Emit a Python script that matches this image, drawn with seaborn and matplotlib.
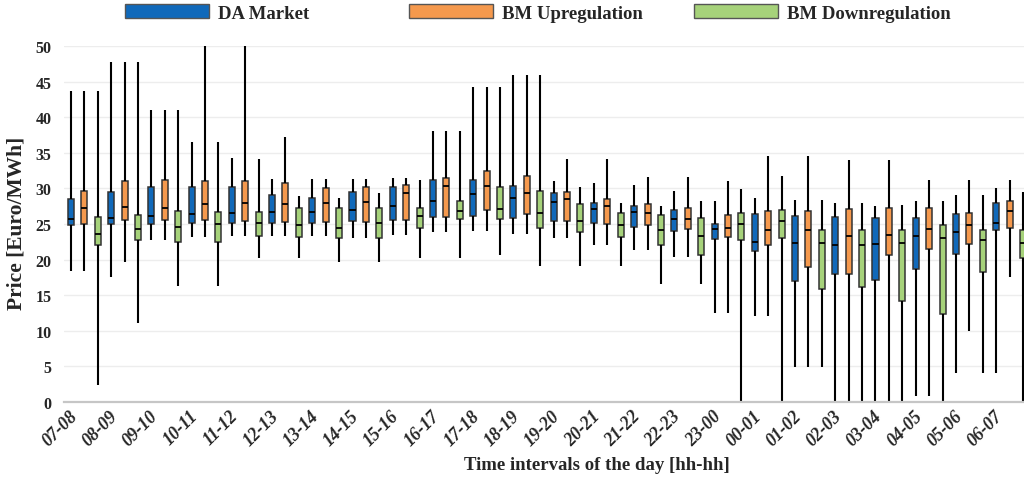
import pandas as pd
import seaborn as sns
import matplotlib.pyplot as plt
import matplotlib.transforms as mtransforms
from matplotlib.patches import Patch

# Time intervals and markets
intervals = ['07-08', '08-09', '09-10', '10-11', '11-12', '12-13', '13-14', '14-15',
             '15-16', '16-17', '17-18', '18-19', '19-20', '20-21', '21-22', '22-23',
             '23-00', '00-01', '01-02', '02-03', '03-04', '04-05', '05-06', '06-07']
markets = ['DA Market', 'BM Upregulation', 'BM Downregulation']
colors = ['#1069BA', '#F5994D', '#A6D27A']

# DA Market box statistics
da_low = [18.4, 17.5, 22.8, 23.2, 23.3, 23.3, 23.3, 23.1, 23.5, 23.9, 24.0, 23.6,
          23.1, 22.1, 21.4, 20.4, 12.5, 12.0, 4.9, 0.0, 0.0, 0.8, 4.0, 4.0]
da_q1 = [24.8, 25.0, 25.0, 25.2, 25.2, 25.2, 25.2, 25.4, 25.6, 26.0, 26.1, 25.8,
         25.4, 25.1, 24.6, 24.0, 22.9, 21.2, 17.0, 18.0, 17.1, 18.6, 20.8, 24.2]
da_med = [25.7, 25.9, 26.1, 26.4, 26.6, 26.7, 26.7, 26.9, 27.6, 28.3, 29.2, 28.7,
          28.1, 27.1, 26.7, 25.7, 24.3, 22.5, 22.3, 22.0, 22.2, 23.3, 23.9, 25.2]
da_q3 = [28.5, 29.5, 30.2, 30.2, 30.2, 29.1, 28.6, 29.5, 30.2, 31.2, 31.2, 30.4,
         29.4, 27.9, 27.6, 27.0, 25.0, 26.4, 26.1, 26.0, 25.9, 25.8, 26.4, 27.9]
da_high = [43.7, 47.8, 41.0, 36.5, 34.3, 31.4, 31.3, 31.4, 31.5, 38.1, 44.3, 46.0,
           31.1, 30.8, 30.5, 29.6, 28.3, 28.7, 28.4, 27.9, 27.6, 28.2, 29.1, 30.1]

# BM Upregulation
up_low = [18.4, 19.7, 22.8, 23.2, 23.3, 23.3, 23.3, 23.1, 23.5, 23.9, 24.0, 23.6,
          23.1, 22.1, 21.4, 20.4, 12.5, 12.1, 4.9, 0.0, 0.0, 0.8, 9.9, 17.5]
up_q1 = [25.0, 25.5, 25.5, 25.5, 25.4, 25.3, 25.3, 25.3, 25.6, 26.0, 26.9, 26.4,
         25.4, 25.0, 24.9, 24.3, 23.2, 22.1, 19.0, 18.0, 20.6, 21.5, 22.2, 24.5]
up_med = [27.2, 27.4, 27.3, 27.8, 27.9, 27.8, 28.0, 28.1, 29.3, 30.3, 30.4, 29.4,
          28.5, 27.6, 26.6, 25.7, 24.5, 24.2, 24.2, 23.3, 23.5, 24.3, 24.9, 26.8]
up_q3 = [29.7, 31.0, 31.2, 31.0, 31.1, 30.7, 30.1, 30.2, 30.5, 31.5, 32.4, 31.7,
         29.5, 28.5, 27.8, 27.3, 26.2, 26.8, 26.8, 27.1, 27.2, 27.2, 26.6, 28.3]
up_high = [43.7, 47.8, 41.0, 50.0, 50.0, 37.3, 31.3, 31.4, 31.5, 38.1, 44.3, 46.0,
           34.2, 34.2, 31.6, 31.6, 31.1, 34.5, 34.5, 34.0, 34.0, 31.2, 31.2, 31.2]

# BM Downregulation
down_low = [2.4, 11.1, 16.3, 16.3, 20.2, 20.2, 19.7, 19.7, 20.2, 20.2, 20.6, 19.1,
            19.1, 19.1, 16.6, 16.6, 0.0, 0.0, 4.9, 0.0, 0.0, 0.0, 4.0, 0.0]
down_q1 = [22.1, 22.7, 22.4, 22.4, 23.3, 23.2, 23.0, 23.0, 24.5, 25.7, 25.7, 24.5,
           23.9, 23.2, 22.1, 20.6, 22.7, 23.1, 15.8, 16.1, 14.2, 12.4, 18.2, 20.2]
down_med = [23.6, 24.3, 24.6, 25.0, 25.1, 24.9, 24.5, 25.2, 26.1, 26.8, 27.1, 26.6,
            25.4, 24.8, 24.2, 23.3, 25.0, 25.4, 22.3, 22.1, 22.3, 23.1, 22.7, 22.3]
down_q3 = [26.0, 26.2, 26.8, 26.7, 26.7, 27.2, 27.2, 27.3, 27.3, 28.3, 30.2, 29.7,
           27.8, 26.5, 26.3, 25.9, 26.6, 27.0, 24.1, 24.2, 24.2, 24.8, 24.1, 24.2]
down_high = [43.7, 47.8, 41.0, 36.5, 34.2, 28.9, 28.6, 29.3, 31.2, 38.1, 44.3, 46.0,
             30.2, 28.0, 27.5, 28.3, 29.9, 31.8, 28.4, 28.0, 27.7, 28.3, 29.1, 29.5]

# Build long-form table: five points per box give exactly min/q1/median/q3/max
stats = {
    'DA Market': [da_low, da_q1, da_med, da_q3, da_high],
    'BM Upregulation': [up_low, up_q1, up_med, up_q3, up_high],
    'BM Downregulation': [down_low, down_q1, down_med, down_q3, down_high],
}
rows = []
for market, arrays in stats.items():
    for i, lab in enumerate(intervals):
        for arr in arrays:
            rows.append({'interval': lab, 'market': market, 'price': arr[i]})
df = pd.DataFrame(rows)

sns.set_style('white')
plt.rcParams['font.family'] = ['Liberation Serif', 'DejaVu Serif']
plt.rcParams['font.weight'] = 'bold'

fig = plt.figure(figsize=(10.24, 4.89), dpi=100)
ax = fig.add_axes([64.2 / 1024, 86.3 / 489, 965.5 / 1024, 355.4 / 489])

sns.boxplot(data=df, x='interval', y='price', hue='market', order=intervals,
            hue_order=markets, palette=colors, saturation=1, width=1.0, gap=0.55,
            whis=(0, 100), showcaps=False, showfliers=False, linecolor='#333333',
            linewidth=1.1, legend=False, ax=ax,
            whiskerprops={'color': 'black', 'linewidth': 1.5},
            medianprops={'color': 'black', 'linewidth': 1.3})

ax.set_xlim(-0.5, 23.5)
ax.set_ylim(0, 50)
ax.set_yticks(range(0, 51, 5))
ax.yaxis.grid(True, color='#EDEDED', linewidth=1)
ax.set_axisbelow(True)
for side in ['left', 'right', 'top']:
    ax.spines[side].set_visible(False)
ax.spines['bottom'].set_color('#C6C6C6')
ax.spines['bottom'].set_linewidth(1.6)

ax.tick_params(axis='y', length=0, pad=9, labelsize=11.5)
ax.tick_params(axis='x', length=0, pad=4)
ax.set_xticks(range(len(intervals)))
ax.set_xticklabels(intervals, rotation=45, ha='right', va='center',
                   rotation_mode='anchor', fontstyle='italic', fontweight='bold', fontsize=13)
shift = mtransforms.ScaledTranslation(-7 / 72, -4 / 72, fig.dpi_scale_trans)
for lab in ax.get_xticklabels():
    lab.set_transform(lab.get_transform() + shift)
for lab in ax.get_yticklabels():
    lab.set_fontweight('bold')

ax.set_xlabel('Time intervals of the day [hh-hh]', fontsize=13.5, fontweight='bold')
ax.xaxis.set_label_coords((597 - 64.2) / 965.5, (489 - 466 - 86.3) / 355.4)
ax.xaxis.label.set_va('center')
ax.set_ylabel('Price [Euro/MWh]', fontsize=15.5, fontweight='bold')
ax.yaxis.set_label_coords((17 - 64.2) / 965.5, (489 - 223 - 86.3) / 355.4)
ax.yaxis.label.set_va('center')

# Legend entries spread evenly across the top, like the original
for lab, col, x0 in zip(markets, colors, [125, 409, 694]):
    fig.legend(handles=[Patch(facecolor=col, edgecolor='#555555', label=lab)],
               loc='center left', bbox_to_anchor=(x0 / 1024, 1 - 14 / 489),
               frameon=False, handlelength=4.5, handleheight=0.7, handletextpad=0.45,
               borderpad=0, borderaxespad=0,
               prop={'family': 'Liberation Serif', 'weight': 'bold', 'size': 13.5})

plt.savefig('out.png', dpi=100)
